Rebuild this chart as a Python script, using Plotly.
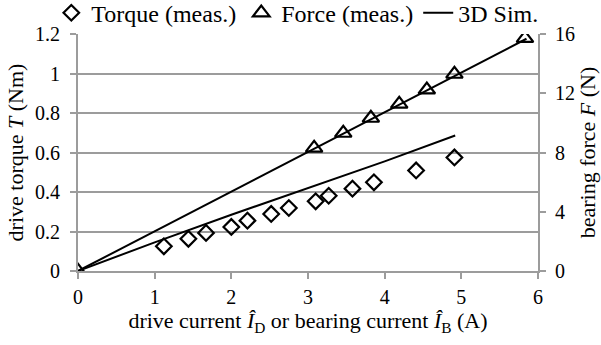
import plotly.graph_objects as go

# Measured drive torque (Nm) vs drive current (A)
torque_current = [1.12, 1.44, 1.67, 2.00, 2.21, 2.52, 2.75, 3.10, 3.27, 3.58, 3.86, 4.41, 4.91]
torque_meas = [0.125, 0.163, 0.193, 0.223, 0.255, 0.289, 0.319, 0.353, 0.381, 0.417, 0.449, 0.509, 0.575]

# Measured bearing force (N) vs bearing current (A)
force_current = [0.0, 3.08, 3.46, 3.82, 4.19, 4.55, 4.91, 5.83]
force_meas = [0.0, 8.3, 9.31, 10.32, 11.27, 12.23, 13.29, 15.71]

# 3D simulation results
sim_torque_current = [0.0, 1.0, 2.0, 3.0, 4.0, 4.92]
sim_torque = [0.0, 0.145, 0.285, 0.42, 0.555, 0.686]
sim_force_current = [0.0, 1.0, 2.0, 3.0, 4.0, 5.0, 5.85]
sim_force = [0.0, 2.68, 5.36, 8.04, 10.72, 13.4, 15.68]

GRID = "#9c9c9c"


def serif(size, family="Liberation Serif"):
    return dict(family=family, size=size, color="black")


fig = go.Figure()

fig.add_trace(go.Scatter(
    x=torque_current, y=torque_meas, mode="markers", name="Torque (meas.)",
    marker=dict(symbol="diamond-open", size=12, color="black", line=dict(width=2.2, color="black")),
    yaxis="y"))
fig.add_trace(go.Scatter(
    x=force_current, y=force_meas, mode="markers", name="Force (meas.)",
    marker=dict(symbol="triangle-up-open", size=14.5, color="black", line=dict(width=2.2, color="black")),
    yaxis="y2"))
fig.add_trace(go.Scatter(
    x=sim_torque_current, y=sim_torque, mode="lines", name="3D Sim.",
    line=dict(color="black", width=2), yaxis="y"))
fig.add_trace(go.Scatter(
    x=sim_force_current, y=sim_force, mode="lines", name="3D Sim.",
    line=dict(color="black", width=2), yaxis="y2", showlegend=False))

fig.update_layout(
    template="none",
    width=601, height=345,
    margin=dict(l=78, r=63, t=34, b=74, autoexpand=False),
    paper_bgcolor="white", plot_bgcolor="white",
    font=serif(20),
    showlegend=True,
    legend=dict(orientation="h", x=-0.058, xanchor="left", y=1.088, yanchor="middle",
                font=serif(24), itemwidth=30, bgcolor="rgba(0,0,0,0)", borderwidth=0),
    xaxis=dict(range=[0, 6], dtick=1, showgrid=False, zeroline=False,
               showline=True, linecolor=GRID, linewidth=2,
               ticks="outside", ticklen=6, tickcolor=GRID, tickwidth=2,
               tickfont=serif(20), ticklabelstandoff=1,
               title=dict(text="drive current <i>Î</i><sub>D</sub> or bearing current <i>Î</i><sub>B</sub> (A)",
                          font=serif(22), standoff=2)),
    yaxis=dict(range=[0, 1.2], dtick=0.2, showgrid=True, gridcolor=GRID, gridwidth=2,
               zeroline=False, showline=True, linecolor=GRID, linewidth=2,
               ticks="outside", ticklen=6, tickcolor=GRID, tickwidth=2,
               tickfont=serif(20), ticklabelstandoff=6,
               title=dict(text="drive torque <i>T</i> (Nm)", font=serif(22), standoff=5)),
    yaxis2=dict(range=[0, 16], dtick=4, overlaying="y", side="right", showgrid=False,
                zeroline=False, showline=True, linecolor=GRID, linewidth=2,
                ticks="outside", ticklen=6, tickcolor=GRID, tickwidth=2,
                tickfont=serif(20), ticklabelstandoff=5,
                title=dict(text="bearing force <i>F</i> (N)", font=serif(22), standoff=3)),
)

fig.write_html("out.html")
